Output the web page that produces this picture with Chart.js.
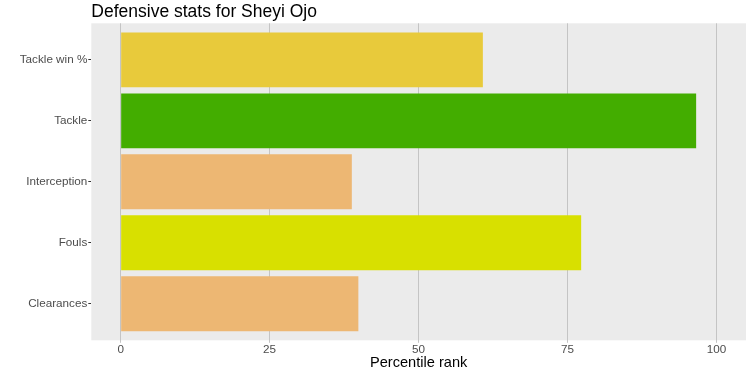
<!DOCTYPE html>
<html>
<head>
<meta charset="utf-8">
<script src="https://cdn.jsdelivr.net/npm/chart.js@4"></script>
<style>
html,body{margin:0;padding:0;background:#fff;}
#wrap{width:750px;height:372px;position:relative;}
</style>
</head>
<body>
<div id="wrap"><canvas id="c" width="750" height="372"></canvas></div>
<script>
const categories = ["Tackle win %", "Tackle", "Interception", "Fouls", "Clearances"];
const percentiles = [60.8, 96.6, 38.8, 77.3, 39.9];
const barColors = ["#E8CA3B", "#43AD00", "#EDB773", "#D8E000", "#EDB773"];
const xTicks = [0, 25, 50, 75, 100];
const chartTitle = "Defensive stats for Sheyi Ojo";
const xTitle = "Percentile rank";

const FONT = "'Liberation Sans', Arial, sans-serif";

const panelBg = {
  id: 'panelBg',
  beforeDraw(chart) {
    const {ctx, chartArea: a} = chart;
    ctx.save();
    ctx.fillStyle = '#EBEBEB';
    ctx.fillRect(a.left, a.top, a.right - a.left, a.bottom - a.top);
    ctx.restore();
  },
  afterDraw(chart) {
    const {ctx, chartArea: a} = chart;
    ctx.save();
    ctx.font = "17.5px " + FONT;
    ctx.fillStyle = '#000';
    ctx.textBaseline = 'alphabetic';
    ctx.textAlign = 'left';
    ctx.fillText(chartTitle, a.left, 16.7);
    ctx.restore();
  }
};

new Chart(document.getElementById('c'), {
  type: 'bar',
  data: {
    datasets: [{
      data: categories.map((c, i) => ({x: percentiles[i], y: i + 1})),
      backgroundColor: barColors,
      borderWidth: 0,
      barPercentage: 0.9,
      categoryPercentage: 1
    }]
  },
  options: {
    indexAxis: 'y',
    responsive: false,
    animation: false,
    devicePixelRatio: 1,
    layout: {padding: {top: 23.3, right: 4, bottom: 0, left: 0}},
    plugins: {legend: {display: false}, tooltip: {enabled: false}, title: {display: false}},
    scales: {
      x: {
        type: 'linear',
        min: -4.93,
        max: 104.97,
        offset: false,
        afterBuildTicks(scale) { scale.ticks = xTicks.map(v => ({value: v})); },
        afterFit(scale) { scale.height = 31.7; },
        grid: {color: '#C4C4C4', lineWidth: 1, tickLength: 2.5, drawTicks: true, offset: false},
        border: {display: false},
        ticks: {color: '#4D4D4D', font: {family: FONT, size: 11.7}, padding: 0, maxRotation: 0},
        title: {display: true, text: xTitle, color: '#000', font: {family: FONT, size: 14.6}, padding: {top: 0, bottom: 0}}
      },
      y: {
        type: 'linear',
        min: 0.4,
        max: 5.6,
        reverse: true,
        offset: false,
        afterBuildTicks(scale) { scale.ticks = categories.map((c, i) => ({value: i + 1})); },
        afterFit(scale) { scale.width = 91.3; },
        grid: {drawOnChartArea: false, color: '#333333', tickLength: 3, lineWidth: 1, offset: false},
        border: {display: false},
        ticks: {
          color: '#4D4D4D',
          font: {family: FONT, size: 11.7},
          padding: 1,
          callback: (v) => categories[Math.round(v) - 1]
        }
      }
    }
  },
  plugins: [panelBg]
});
</script>
</body>
</html>
